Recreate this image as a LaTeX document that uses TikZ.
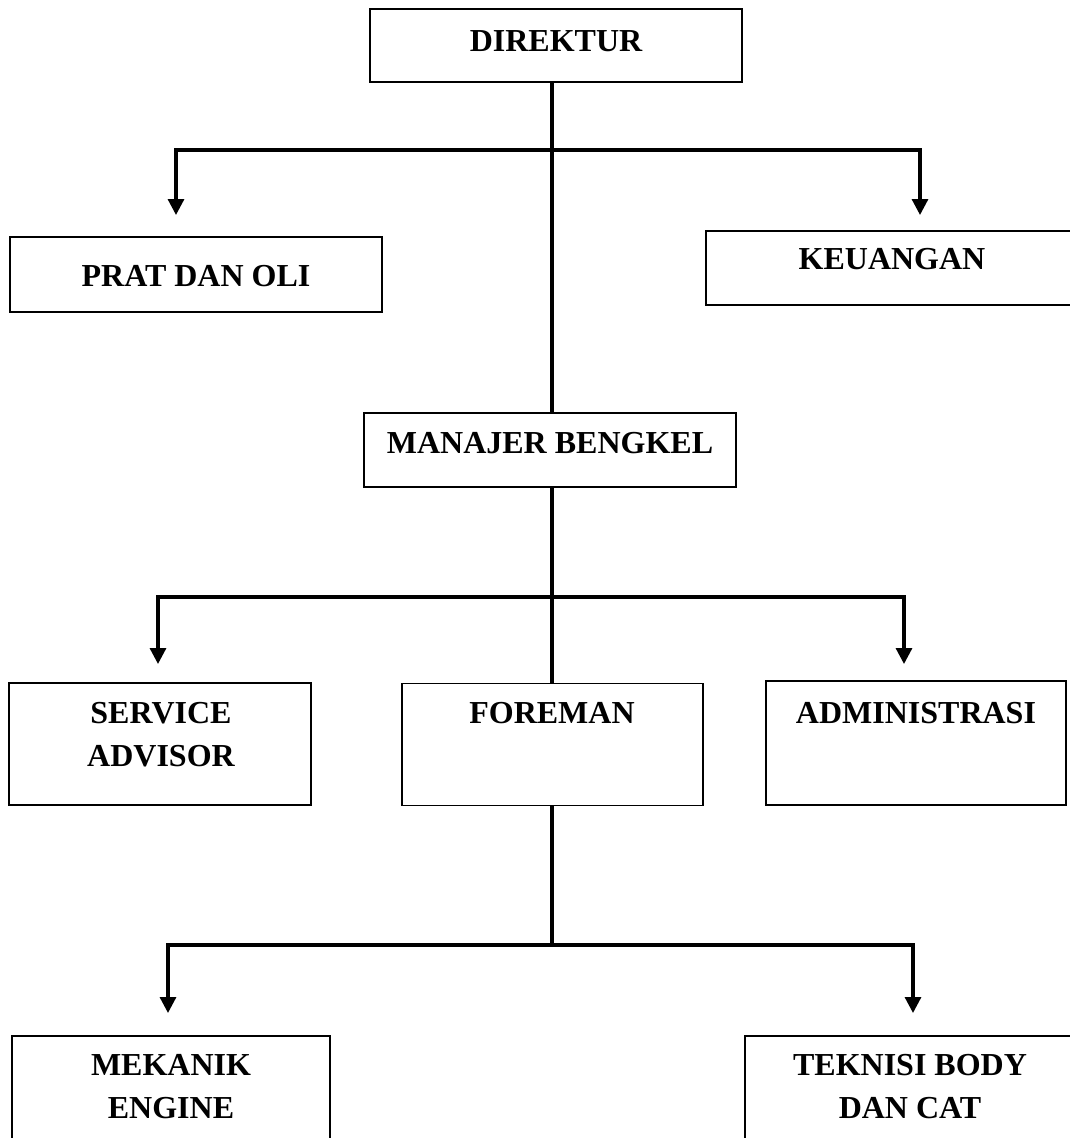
\documentclass[tikz,border=0pt]{standalone}
\usepackage{fontspec}
\setmainfont{Liberation Serif}
\usetikzlibrary{arrows.meta}
\tikzset{
  box/.style={draw=black, fill=white, line width=1.5pt, rectangle, inner sep=0pt, outer sep=0pt},
  lbl/.style={font=\bfseries\fontsize{32}{43}\selectfont, align=center, inner sep=0pt, anchor=center},
  conn/.style={draw=black, line width=3.2pt},
  arr/.style={conn, -{Triangle[length=16pt, width=16pt]}}
}
\begin{document}
\begin{tikzpicture}[x=1pt, y=-1pt]
\clip (0,0) rectangle (1070,1138);
\fill[white] (0,0) rectangle (1070,1138);

% boxes
\node[box, minimum width=372pt, minimum height=73pt] (dir) at (556,45.5) {};
\node[box, minimum width=372pt, minimum height=75pt] (prat) at (196,274.5) {};
\node[box, minimum width=372pt, minimum height=74pt] (keu) at (892,268) {};
\node[box, minimum width=372pt, minimum height=74pt] (man) at (550,450) {};
\node[box, minimum width=302pt, minimum height=122pt] (sa) at (160,744) {};
\node[box, minimum width=301pt, minimum height=122pt] (fore) at (552.5,744.5) {};
\node[box, minimum width=300pt, minimum height=124pt] (adm) at (916,743) {};
\node[box, minimum width=318pt, minimum height=122pt] (mek) at (171,1097) {};
\node[box, minimum width=330pt, minimum height=122pt] (tek) at (910,1097) {};

% labels
\node[lbl] (tdir) at (556,41) {DIREKTUR};
\node[lbl] (tprat) at (196,276.5) {PRAT DAN OLI};
\node[lbl] (tkeu) at (892,259.5) {KEUANGAN};
\node[lbl] (tman) at (550,443.5) {MANAJER BENGKEL};
\node[lbl] (tsa) at (161,734.5) {SERVICE\\ADVISOR};
\node[lbl] (tfore) at (552,713.5) {FOREMAN};
\node[lbl] (tadm) at (916,713) {ADMINISTRASI};
\node[lbl] (tmek) at (171,1086.5) {MEKANIK\\ENGINE};
\node[lbl] (ttek) at (910,1087) {TEKNISI BODY\\DAN CAT};

% junctions and arrow tips
\coordinate (j1) at (552,150);
\coordinate (j2) at (552,597);
\coordinate (j3) at (552,945);
\coordinate (a1) at (176,215);
\coordinate (a2) at (920,215);
\coordinate (b1) at (158,664);
\coordinate (b2) at (904,664);
\coordinate (c1) at (168,1013);
\coordinate (c2) at (913,1013);

% connectors
\draw[conn] (dir.south -| j1) -- (man.north -| j1);
\draw[arr] (j1) -| (a1);
\draw[arr] (j1) -| (a2);
\draw[conn] (man.south -| j2) -- (fore.north -| j2);
\draw[arr] (j2) -| (b1);
\draw[arr] (j2) -| (b2);
\draw[conn] (fore.south -| j3) -- (j3);
\draw[arr] (j3) -| (c1);
\draw[arr] (j3) -| (c2);
\end{tikzpicture}
\end{document}
